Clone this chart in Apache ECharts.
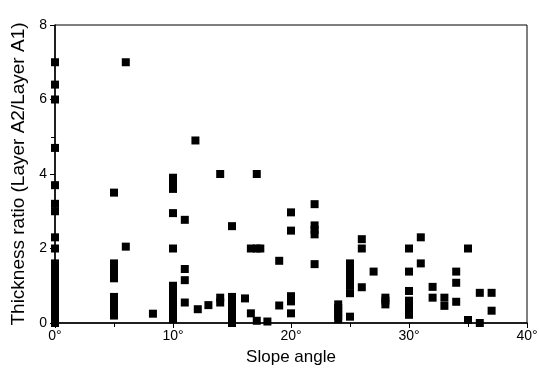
<!DOCTYPE html>
<html>
<head>
<meta charset="utf-8">
<script src="https://cdn.jsdelivr.net/npm/echarts@6/dist/echarts.min.js"></script>
<style>
  html, body { margin: 0; padding: 0; background: #fff; }
  #chart { width: 539px; height: 371px; }
</style>
</head>
<body>
<div id="chart"></div>
<script>
// slope angles (degrees) and the thickness ratios measured at each of them
const angles = [0, 5, 6, 8.3, 10, 11, 11.9, 12.1, 13, 14, 15, 16.1, 16.6, 17.1, 17.4, 18, 19, 20, 22, 24, 25, 26, 27, 28, 30, 31, 32, 33, 34, 35, 36, 37];
const ratiosByAngle = [
  [0, 0.1, 0.2, 0.3, 0.4, 0.5, 0.6, 0.7, 0.8, 0.9, 1.0, 1.1, 1.2, 1.3, 1.4, 1.5, 1.6, 2.0, 2.3, 3.0, 3.2, 3.7, 4.7, 6.0, 6.4, 7.0],
  [0.2, 0.3, 0.4, 0.5, 0.6, 0.7, 1.2, 1.3, 1.4, 1.5, 1.6, 3.5],
  [2.05, 7.0],
  [0.25],
  [0.1, 0.2, 0.3, 0.4, 0.5, 0.6, 0.7, 0.8, 0.9, 1.0, 2.0, 2.95, 3.6, 3.7, 3.8, 3.9],
  [0.55, 1.15, 1.45, 2.77],
  [4.9],
  [0.37],
  [0.48],
  [0.55, 0.68, 4.0],
  [0, 0.1, 0.2, 0.3, 0.4, 0.5, 0.6, 0.7, 2.6],
  [0.66],
  [0.26, 2.0],
  [0.06, 2.0, 4.0],
  [2.0],
  [0.04],
  [0.47, 1.67],
  [0.26, 0.58, 0.72, 2.48, 2.97],
  [1.58, 2.38, 2.5, 2.62, 3.19],
  [0.1, 0.2, 0.3, 0.4, 0.5],
  [0.17, 0.8, 1.0, 1.2, 1.3, 1.4, 1.5, 1.6],
  [0.96, 2.0, 2.25],
  [1.38],
  [0.5, 0.6, 0.68],
  [0.22, 0.32, 0.42, 0.52, 0.6, 0.86, 1.38, 2.0],
  [1.6, 2.3],
  [0.68, 0.97],
  [0.46, 0.68],
  [0.57, 1.08, 1.38],
  [0.08, 2.0],
  [0.0, 0.81],
  [0.33, 0.81]
];

const points = [];
angles.forEach((a, i) => {
  ratiosByAngle[i].forEach(r => points.push([a, r]));
});

const font = '"Liberation Sans", Arial, sans-serif';
const chart = echarts.init(document.getElementById('chart'));
chart.setOption({
  animation: false,
  grid: {
    left: 55, right: 12, top: 25, bottom: 48,
    containLabel: false,
    outerBoundsMode: 'none',
    show: true, borderColor: '#000', borderWidth: 1
  },
  xAxis: {
    type: 'value',
    min: 0, max: 40, interval: 10,
    name: 'Slope angle',
    nameLocation: 'middle',
    nameGap: 26,
    nameTextStyle: { fontFamily: font, fontSize: 17, color: '#000' },
    axisLine: { show: true, lineStyle: { color: '#000', width: 1.5 } },
    axisTick: { show: true, inside: false, length: 5, lineStyle: { color: '#000' } },
    minorTick: { show: true, splitNumber: 2, length: 4, lineStyle: { color: '#000' } },
    splitLine: { show: false },
    axisLabel: {
      fontFamily: font, fontSize: 14, color: '#000', margin: 6,
      formatter: v => v + '°'
    }
  },
  yAxis: {
    type: 'value',
    min: 0, max: 8, interval: 2,
    name: 'Thickness ratio (Layer A2/Layer A1)',
    nameLocation: 'middle',
    nameGap: 23,
    nameTextStyle: { fontFamily: font, fontSize: 19, color: '#000' },
    axisLine: { show: true, lineStyle: { color: '#000', width: 1.5 } },
    axisTick: { show: true, inside: false, length: 5, lineStyle: { color: '#000' } },
    minorTick: { show: true, splitNumber: 2, length: 4, lineStyle: { color: '#000' } },
    splitLine: { show: false },
    axisLabel: { fontFamily: font, fontSize: 14, color: '#000', margin: 8 }
  },
  series: [{
    type: 'scatter',
    symbol: 'rect',
    symbolSize: 8,
    clip: false,
    itemStyle: { color: '#000', opacity: 1, borderWidth: 0 },
    data: points
  }]
});
</script>
</body>
</html>
